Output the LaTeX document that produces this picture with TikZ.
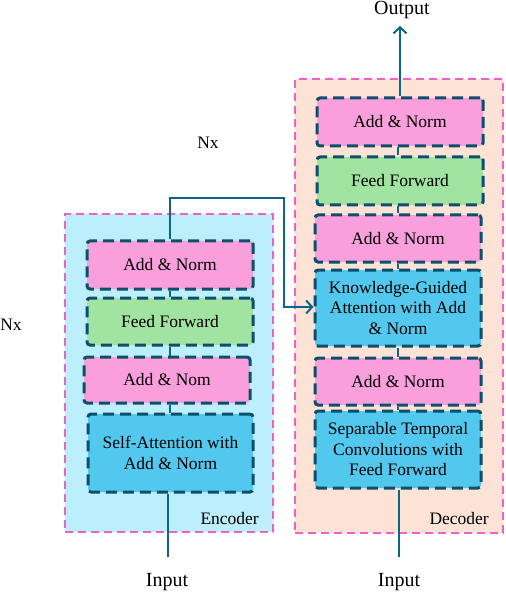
\documentclass[tikz,border=0pt]{standalone}
\usepackage{fontspec}
\setmainfont{Liberation Serif}
\usetikzlibrary{arrows.meta}
\definecolor{encbg}{HTML}{BDEEFB}
\definecolor{decbg}{HTML}{FDE3D6}
\definecolor{outerpink}{HTML}{F060C8}
\definecolor{boxedge}{HTML}{0D4F6B}
\definecolor{pinkbox}{HTML}{F9A0DC}
\definecolor{greenbox}{HTML}{A1E3A0}
\definecolor{bluebox}{HTML}{52C8EE}
\definecolor{conn}{HTML}{0C6688}
\tikzset{
  outerbox/.style={draw=outerpink, line width=2pt, dash pattern=on 8pt off 5pt, minimum width=208pt, inner sep=0pt},
  block/.style={draw=boxedge, line width=3pt, dash pattern=on 11pt off 6pt, rounded corners=3pt,
    minimum width=166pt, inner sep=0pt, align=center, font=\fontsize{17.5}{20.5}\selectfont},
  pinkblk/.style={block, fill=pinkbox},
  greenblk/.style={block, fill=greenbox},
  blueblk/.style={block, fill=bluebox},
  lbl/.style={inner sep=0pt, font=\fontsize{17.5}{20.5}\selectfont},
  iolbl/.style={inner sep=0pt, font=\fontsize{20}{24}\selectfont},
  conline/.style={draw=conn, line width=2pt},
  arr/.style={conline, -{Straight Barb[length=6pt,width=13pt]}},
}
\begin{document}
\begin{tikzpicture}[x=1pt,y=-1pt]
\useasboundingbox (0,0) rectangle (505,593);
% outer containers
\node[outerbox, fill=encbg, minimum height=318pt] (enc) at (169,373) {};
\node[outerbox, fill=decbg, minimum height=454pt] (dec) at (399,306) {};
% encoder blocks
\node[pinkblk, minimum height=48pt] (e1) at (170,265) {Add \& Norm};
\node[greenblk, minimum height=47pt] (e2) at (170,321.5) {Feed Forward};
\node[pinkblk, minimum height=46pt] (e3) at (167,380) {Add \& Nom};
\node[blueblk, minimum width=165pt, minimum height=78pt] (e4) at (170.5,453) {Self-Attention with\\Add \& Norm};
% decoder blocks
\node[pinkblk, minimum height=48pt] (d1) at (400,122) {Add \& Norm};
\node[greenblk, minimum height=48pt] (d2) at (400,181) {Feed Forward};
\node[pinkblk, minimum height=47pt] (d3) at (398,238.5) {Add \& Norm};
\node[blueblk, minimum height=76pt] (d4) at (398,308) {Knowledge-Guided\\Attention with Add\\\& Norm};
\node[pinkblk, minimum height=47pt] (d5) at (398,381.5) {Add \& Norm};
\node[blueblk, minimum height=77pt] (d6) at (398,449.5) {Separable Temporal\\Convolutions with\\Feed Forward};
% labels
\node[lbl, anchor=east] (enclbl) at (259,519) {Encoder};
\node[lbl, anchor=east] (declbl) at (489,519) {Decoder};
\node[lbl] (nx1) at (208,143) {Nx};
\node[lbl] (nx2) at (11,325) {Nx};
\node[iolbl] (ine) at (167,582) {Input};
\node[iolbl] (ind) at (399,582) {Input};
\node[iolbl] (out) at (402,10.5) {Output};
% connectors between blocks
\draw[conline] (e1.south) -- (e1.south |- e2.north);
\draw[conline] (e2.south) -- (e2.south |- e3.north);
\draw[conline] (e3.south -| e1.south) -- (e1.south |- e4.north);
\draw[conline] (d1.south -| d4.north) -- (d4.north |- d2.north);
\draw[conline] (d2.south -| d4.north) -- (d4.north |- d3.north);
\draw[conline] (d3.south) -- (d4.north);
\draw[conline] (d4.south) -- (d5.north);
\draw[conline] (d5.south) -- (d6.north);
% inputs
\coordinate (ie) at (168,557);
\coordinate (id) at (399,557);
\draw[conline] (ie) -- (ie |- e4.south);
\draw[conline] (id) -- (id |- d6.south);
% output
\coordinate (otip) at (400,26);
\draw[arr] (d1.north) -- (otip);
% cross connection
\coordinate (c1) at (170,198);
\coordinate (c2) at (284,198);
\coordinate (c3) at (284,307);
\draw[arr] (e1.north) -- (c1) -- (c2) -- (c3) -- (c3 -| d4.west);
\end{tikzpicture}
\end{document}
